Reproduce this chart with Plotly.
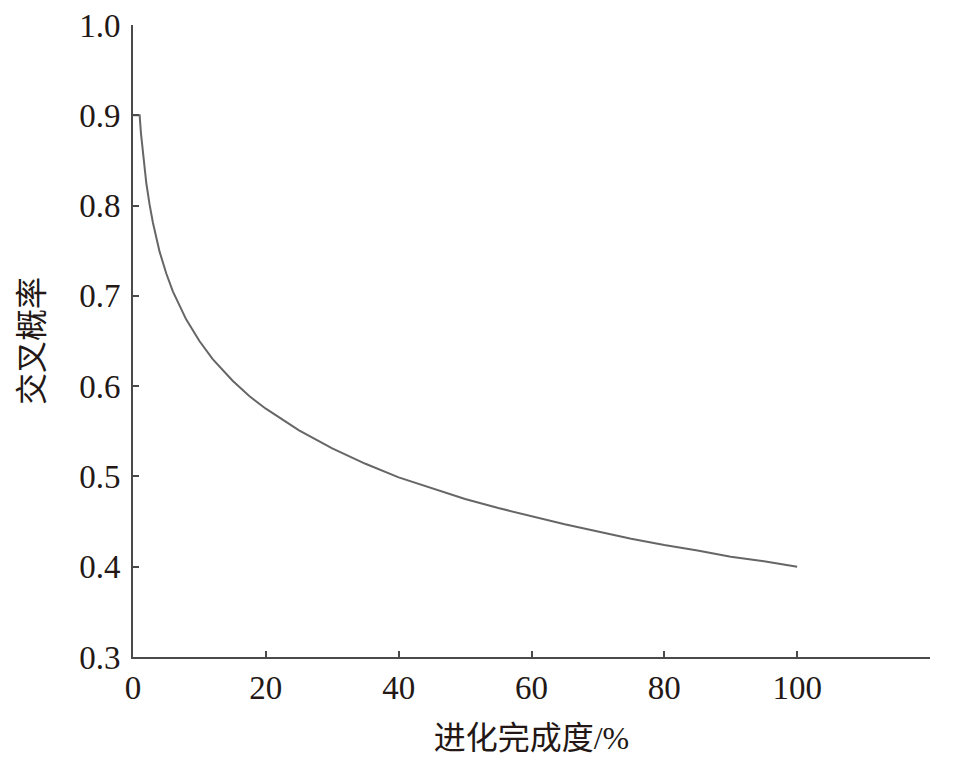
import plotly.graph_objects as go

# crossover probability vs. evolution completion
progress = [0, 1, 1.2, 1.5, 2, 2.5, 3, 4, 5, 6, 7, 8, 10, 12, 15, 17.5, 20,
            25, 30, 35, 40, 45, 50, 55, 60, 65, 70, 75, 80, 85, 90, 95, 100]
cross_prob = [0.900, 0.900, 0.880, 0.856, 0.825, 0.801, 0.781, 0.749, 0.725,
              0.705, 0.689, 0.674, 0.650, 0.630, 0.606, 0.589, 0.575, 0.551,
              0.531, 0.514, 0.499, 0.487, 0.475, 0.465, 0.456, 0.447, 0.439,
              0.431, 0.424, 0.418, 0.411, 0.406, 0.400]

x_ticks = [0, 20, 40, 60, 80, 100]
y_ticks = [0.3, 0.4, 0.5, 0.6, 0.7, 0.8, 0.9, 1.0]

font_family = 'Liberation Serif, Noto Sans CJK SC, serif'
text_color = '#231815'

fig = go.Figure()
fig.add_scatter(x=progress, y=cross_prob, mode='lines',
                line=dict(color='#666666', width=2), showlegend=False)

axis_style = dict(showline=True, linecolor='#4a4a4a', linewidth=2,
                  ticks='inside', ticklen=6, tickwidth=2, tickcolor='#4a4a4a',
                  showgrid=False, zeroline=False, mirror=False, automargin=False,
                  ticklabeloverflow='allow',
                  tickfont=dict(family=font_family, size=33, color=text_color))

fig.update_xaxes(range=[0, 120], tickvals=x_ticks, ticklabelstandoff=0,
                 title=dict(text='进化完成度/%', standoff=22,
                            font=dict(family=font_family, size=32, color=text_color)),
                 **axis_style)
fig.update_yaxes(range=[0.3, 1.0], tickvals=y_ticks, tickformat='.1f', ticklabelstandoff=4,
                 title=dict(text='交叉概率', standoff=26,
                            font=dict(family=font_family, size=32, color=text_color)),
                 **axis_style)

fig.update_layout(width=961, height=768, plot_bgcolor='white', paper_bgcolor='white',
                  margin=dict(l=125, r=39, t=17, b=119))

fig.write_html("out.html")
